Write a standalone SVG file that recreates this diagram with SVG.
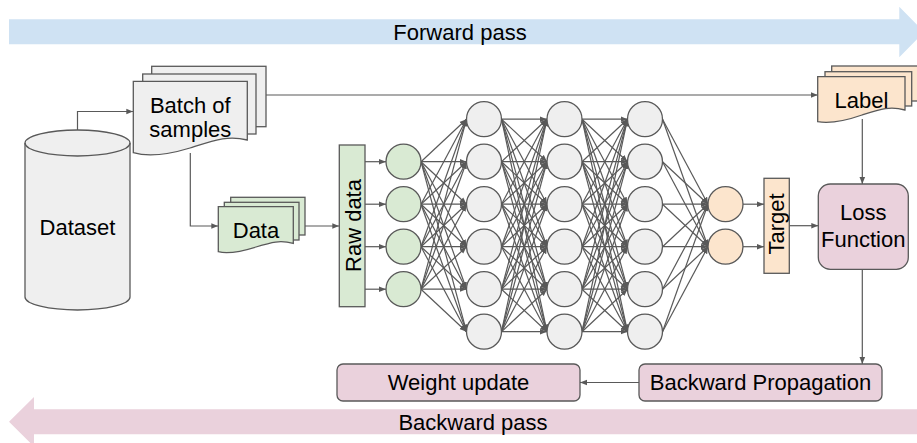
<svg xmlns="http://www.w3.org/2000/svg" width="917" height="443" viewBox="0 0 917 443">
<style>
text{font-family:"Liberation Sans",Arial,sans-serif;font-size:22px;fill:#000;text-anchor:middle}
.s{stroke:#595959;stroke-width:1.3}
.c{stroke:#595959;stroke-width:1.2;fill:none;marker-end:url(#ah)}
.gr{fill:#efefef}
.gn{fill:#d9ead3}
.or{fill:#fce5cd}
.pk{fill:#ead1dc}
</style>
<defs>
<marker id="ah" viewBox="0 0 10 10" refX="10" refY="5" markerWidth="7" markerHeight="7" markerUnits="userSpaceOnUse" orient="auto"><path d="M0,1 L10,5 L0,9 Z" fill="#595959"/></marker>
</defs>
<rect width="917" height="443" fill="#fff"/>
<g id="forward-pass">
<path d="M9,19.3 H899.3 V6.7 L924,32 L899.3,57.3 V44.3 H9 Z" fill="#cfe2f3"/>
<text x="460" y="40.3">Forward pass</text>
</g>
<g id="backward-pass">
<path d="M920,409.3 H34 V397 L9,421.8 L34,446.6 V434.3 H920 Z" fill="#ead1dc"/>
<text x="473" y="430">Backward pass</text>
</g>
<g id="connectors">
<path class="c" d="M77.5,130 V111.5 H133.3"/>
<path class="c" d="M190.3,153 V226 H218.3"/>
<path class="c" d="M305,226 H339.3"/>
<path class="c" d="M266,95 H817.7"/>
<path class="c" d="M862.3,119 V184"/>
<path class="c" d="M789.3,225.7 H818.3"/>
<path class="c" d="M862.3,269.3 V364"/>
<path class="c" d="M639,382.5 H580"/>
<path class="c" d="M365,161.7 H386"/>
<path class="c" d="M365,204.2 H386"/>
<path class="c" d="M365,246.7 H386"/>
<path class="c" d="M365,289.2 H386"/>
<path class="c" d="M743,204.2 H764"/>
<path class="c" d="M743,246.7 H764"/>
<g id="layer-in-h1">
<line class="c" x1="421" y1="161.7" x2="466.5" y2="119.2"/><line class="c" x1="421" y1="161.7" x2="466.5" y2="161.7"/><line class="c" x1="421" y1="161.7" x2="466.5" y2="204.2"/><line class="c" x1="421" y1="161.7" x2="466.5" y2="246.7"/><line class="c" x1="421" y1="161.7" x2="466.5" y2="289.2"/><line class="c" x1="421" y1="161.7" x2="466.5" y2="331.7"/>
<line class="c" x1="421" y1="204.2" x2="466.5" y2="119.2"/><line class="c" x1="421" y1="204.2" x2="466.5" y2="161.7"/><line class="c" x1="421" y1="204.2" x2="466.5" y2="204.2"/><line class="c" x1="421" y1="204.2" x2="466.5" y2="246.7"/><line class="c" x1="421" y1="204.2" x2="466.5" y2="289.2"/><line class="c" x1="421" y1="204.2" x2="466.5" y2="331.7"/>
<line class="c" x1="421" y1="246.7" x2="466.5" y2="119.2"/><line class="c" x1="421" y1="246.7" x2="466.5" y2="161.7"/><line class="c" x1="421" y1="246.7" x2="466.5" y2="204.2"/><line class="c" x1="421" y1="246.7" x2="466.5" y2="246.7"/><line class="c" x1="421" y1="246.7" x2="466.5" y2="289.2"/><line class="c" x1="421" y1="246.7" x2="466.5" y2="331.7"/>
<line class="c" x1="421" y1="289.2" x2="466.5" y2="119.2"/><line class="c" x1="421" y1="289.2" x2="466.5" y2="161.7"/><line class="c" x1="421" y1="289.2" x2="466.5" y2="204.2"/><line class="c" x1="421" y1="289.2" x2="466.5" y2="246.7"/><line class="c" x1="421" y1="289.2" x2="466.5" y2="289.2"/><line class="c" x1="421" y1="289.2" x2="466.5" y2="331.7"/>
</g>
<g id="layer-h1-h2">
<line class="c" x1="501.5" y1="119.2" x2="547" y2="119.2"/><line class="c" x1="501.5" y1="119.2" x2="547" y2="161.7"/><line class="c" x1="501.5" y1="119.2" x2="547" y2="204.2"/><line class="c" x1="501.5" y1="119.2" x2="547" y2="246.7"/><line class="c" x1="501.5" y1="119.2" x2="547" y2="289.2"/><line class="c" x1="501.5" y1="119.2" x2="547" y2="331.7"/>
<line class="c" x1="501.5" y1="161.7" x2="547" y2="119.2"/><line class="c" x1="501.5" y1="161.7" x2="547" y2="161.7"/><line class="c" x1="501.5" y1="161.7" x2="547" y2="204.2"/><line class="c" x1="501.5" y1="161.7" x2="547" y2="246.7"/><line class="c" x1="501.5" y1="161.7" x2="547" y2="289.2"/><line class="c" x1="501.5" y1="161.7" x2="547" y2="331.7"/>
<line class="c" x1="501.5" y1="204.2" x2="547" y2="119.2"/><line class="c" x1="501.5" y1="204.2" x2="547" y2="161.7"/><line class="c" x1="501.5" y1="204.2" x2="547" y2="204.2"/><line class="c" x1="501.5" y1="204.2" x2="547" y2="246.7"/><line class="c" x1="501.5" y1="204.2" x2="547" y2="289.2"/><line class="c" x1="501.5" y1="204.2" x2="547" y2="331.7"/>
<line class="c" x1="501.5" y1="246.7" x2="547" y2="119.2"/><line class="c" x1="501.5" y1="246.7" x2="547" y2="161.7"/><line class="c" x1="501.5" y1="246.7" x2="547" y2="204.2"/><line class="c" x1="501.5" y1="246.7" x2="547" y2="246.7"/><line class="c" x1="501.5" y1="246.7" x2="547" y2="289.2"/><line class="c" x1="501.5" y1="246.7" x2="547" y2="331.7"/>
<line class="c" x1="501.5" y1="289.2" x2="547" y2="119.2"/><line class="c" x1="501.5" y1="289.2" x2="547" y2="161.7"/><line class="c" x1="501.5" y1="289.2" x2="547" y2="204.2"/><line class="c" x1="501.5" y1="289.2" x2="547" y2="246.7"/><line class="c" x1="501.5" y1="289.2" x2="547" y2="289.2"/><line class="c" x1="501.5" y1="289.2" x2="547" y2="331.7"/>
<line class="c" x1="501.5" y1="331.7" x2="547" y2="119.2"/><line class="c" x1="501.5" y1="331.7" x2="547" y2="161.7"/><line class="c" x1="501.5" y1="331.7" x2="547" y2="204.2"/><line class="c" x1="501.5" y1="331.7" x2="547" y2="246.7"/><line class="c" x1="501.5" y1="331.7" x2="547" y2="289.2"/><line class="c" x1="501.5" y1="331.7" x2="547" y2="331.7"/>
</g>
<g id="layer-h2-h3">
<line class="c" x1="582" y1="119.2" x2="627.5" y2="119.2"/><line class="c" x1="582" y1="119.2" x2="627.5" y2="161.7"/><line class="c" x1="582" y1="119.2" x2="627.5" y2="204.2"/><line class="c" x1="582" y1="119.2" x2="627.5" y2="246.7"/><line class="c" x1="582" y1="119.2" x2="627.5" y2="289.2"/><line class="c" x1="582" y1="119.2" x2="627.5" y2="331.7"/>
<line class="c" x1="582" y1="161.7" x2="627.5" y2="119.2"/><line class="c" x1="582" y1="161.7" x2="627.5" y2="161.7"/><line class="c" x1="582" y1="161.7" x2="627.5" y2="204.2"/><line class="c" x1="582" y1="161.7" x2="627.5" y2="246.7"/><line class="c" x1="582" y1="161.7" x2="627.5" y2="289.2"/><line class="c" x1="582" y1="161.7" x2="627.5" y2="331.7"/>
<line class="c" x1="582" y1="204.2" x2="627.5" y2="119.2"/><line class="c" x1="582" y1="204.2" x2="627.5" y2="161.7"/><line class="c" x1="582" y1="204.2" x2="627.5" y2="204.2"/><line class="c" x1="582" y1="204.2" x2="627.5" y2="246.7"/><line class="c" x1="582" y1="204.2" x2="627.5" y2="289.2"/><line class="c" x1="582" y1="204.2" x2="627.5" y2="331.7"/>
<line class="c" x1="582" y1="246.7" x2="627.5" y2="119.2"/><line class="c" x1="582" y1="246.7" x2="627.5" y2="161.7"/><line class="c" x1="582" y1="246.7" x2="627.5" y2="204.2"/><line class="c" x1="582" y1="246.7" x2="627.5" y2="246.7"/><line class="c" x1="582" y1="246.7" x2="627.5" y2="289.2"/><line class="c" x1="582" y1="246.7" x2="627.5" y2="331.7"/>
<line class="c" x1="582" y1="289.2" x2="627.5" y2="119.2"/><line class="c" x1="582" y1="289.2" x2="627.5" y2="161.7"/><line class="c" x1="582" y1="289.2" x2="627.5" y2="204.2"/><line class="c" x1="582" y1="289.2" x2="627.5" y2="246.7"/><line class="c" x1="582" y1="289.2" x2="627.5" y2="289.2"/><line class="c" x1="582" y1="289.2" x2="627.5" y2="331.7"/>
<line class="c" x1="582" y1="331.7" x2="627.5" y2="119.2"/><line class="c" x1="582" y1="331.7" x2="627.5" y2="161.7"/><line class="c" x1="582" y1="331.7" x2="627.5" y2="204.2"/><line class="c" x1="582" y1="331.7" x2="627.5" y2="246.7"/><line class="c" x1="582" y1="331.7" x2="627.5" y2="289.2"/><line class="c" x1="582" y1="331.7" x2="627.5" y2="331.7"/>
</g>
<g id="layer-h3-out">
<line class="c" x1="662.5" y1="119.2" x2="708" y2="204.2"/><line class="c" x1="662.5" y1="119.2" x2="708" y2="246.7"/>
<line class="c" x1="662.5" y1="161.7" x2="708" y2="204.2"/><line class="c" x1="662.5" y1="161.7" x2="708" y2="246.7"/>
<line class="c" x1="662.5" y1="204.2" x2="708" y2="204.2"/><line class="c" x1="662.5" y1="204.2" x2="708" y2="246.7"/>
<line class="c" x1="662.5" y1="246.7" x2="708" y2="204.2"/><line class="c" x1="662.5" y1="246.7" x2="708" y2="246.7"/>
<line class="c" x1="662.5" y1="289.2" x2="708" y2="204.2"/><line class="c" x1="662.5" y1="289.2" x2="708" y2="246.7"/>
<line class="c" x1="662.5" y1="331.7" x2="708" y2="204.2"/><line class="c" x1="662.5" y1="331.7" x2="708" y2="246.7"/>
</g>
</g>
<g id="dataset">
<path class="s gr" d="M25,143 A52.5,13 0 0 1 130,143 V297 A52.5,13 0 0 1 25,297 Z"/>
<path class="s" fill="none" d="M25,143 A52.5,13 0 0 0 130,143"/>
<text x="77.5" y="235">Dataset</text>
</g>
<g id="batch">
<rect class="s gr" x="151.7" y="66.3" width="114.3" height="60.4"/>
<rect class="s gr" x="142.7" y="74" width="113.3" height="60"/>
<path class="s gr" d="M133.3,81.3 H247.3 V140 C228,135 215,140 190,148 C167,155 148,157 133.3,152.7 Z"/>
<text x="190.3" y="112.7">Batch of</text>
<text x="190.3" y="136.7">samples</text>
</g>
<g id="data">
<rect class="s gn" x="230.7" y="197.3" width="74.3" height="37.7"/>
<rect class="s gn" x="224.3" y="202.3" width="74.7" height="37.7"/>
<path class="s gn" d="M218.3,206.7 H293.3 V243.3 C280,240 272,242 256,247 C240,252 228,254 218.3,251.7 Z"/>
<text x="256" y="237.7">Data</text>
</g>
<g id="label">
<rect class="s or" x="831.7" y="66" width="88" height="35"/>
<rect class="s or" x="825" y="71.7" width="86.7" height="34.3"/>
<path class="s or" d="M817.7,76.7 H905 V110 C890,106 881,109 862,115 C845,121 829,123.5 817.7,121.7 Z"/>
<text x="861.5" y="108.3">Label</text>
</g>
<g id="raw-data">
<rect class="s gn" x="339.3" y="145" width="25.7" height="161.7"/>
<text transform="translate(360.5,225.5) rotate(-90)">Raw data</text>
</g>
<g id="n-in-1"><circle class="s gn" cx="403.5" cy="161.7" r="17.5"/></g>
<g id="n-in-2"><circle class="s gn" cx="403.5" cy="204.2" r="17.5"/></g>
<g id="n-in-3"><circle class="s gn" cx="403.5" cy="246.7" r="17.5"/></g>
<g id="n-in-4"><circle class="s gn" cx="403.5" cy="289.2" r="17.5"/></g>
<g id="n-h1-1"><circle class="s gr" cx="484" cy="119.2" r="17.5"/></g>
<g id="n-h1-2"><circle class="s gr" cx="484" cy="161.7" r="17.5"/></g>
<g id="n-h1-3"><circle class="s gr" cx="484" cy="204.2" r="17.5"/></g>
<g id="n-h1-4"><circle class="s gr" cx="484" cy="246.7" r="17.5"/></g>
<g id="n-h1-5"><circle class="s gr" cx="484" cy="289.2" r="17.5"/></g>
<g id="n-h1-6"><circle class="s gr" cx="484" cy="331.7" r="17.5"/></g>
<g id="n-h2-1"><circle class="s gr" cx="564.5" cy="119.2" r="17.5"/></g>
<g id="n-h2-2"><circle class="s gr" cx="564.5" cy="161.7" r="17.5"/></g>
<g id="n-h2-3"><circle class="s gr" cx="564.5" cy="204.2" r="17.5"/></g>
<g id="n-h2-4"><circle class="s gr" cx="564.5" cy="246.7" r="17.5"/></g>
<g id="n-h2-5"><circle class="s gr" cx="564.5" cy="289.2" r="17.5"/></g>
<g id="n-h2-6"><circle class="s gr" cx="564.5" cy="331.7" r="17.5"/></g>
<g id="n-h3-1"><circle class="s gr" cx="645" cy="119.2" r="17.5"/></g>
<g id="n-h3-2"><circle class="s gr" cx="645" cy="161.7" r="17.5"/></g>
<g id="n-h3-3"><circle class="s gr" cx="645" cy="204.2" r="17.5"/></g>
<g id="n-h3-4"><circle class="s gr" cx="645" cy="246.7" r="17.5"/></g>
<g id="n-h3-5"><circle class="s gr" cx="645" cy="289.2" r="17.5"/></g>
<g id="n-h3-6"><circle class="s gr" cx="645" cy="331.7" r="17.5"/></g>
<g id="n-out-1"><circle class="s or" cx="725.5" cy="204.2" r="17.5"/></g>
<g id="n-out-2"><circle class="s or" cx="725.5" cy="246.7" r="17.5"/></g>
<g id="target">
<rect class="s or" x="764" y="178.3" width="25.3" height="95"/>
<text transform="translate(784,224) rotate(-90)">Target</text>
</g>
<g id="loss">
<rect class="s pk" x="818.3" y="184" width="90" height="85.3" rx="12"/>
<text x="863.3" y="220">Loss</text>
<text x="863.3" y="247.3">Function</text>
</g>
<g id="backprop">
<rect class="s pk" x="639" y="364" width="243" height="37" rx="6"/>
<text x="760.5" y="390.3">Backward Propagation</text>
</g>
<g id="weight-update">
<rect class="s pk" x="337" y="364" width="243" height="37" rx="6"/>
<text x="458.5" y="390.3">Weight update</text>
</g>
</svg>
